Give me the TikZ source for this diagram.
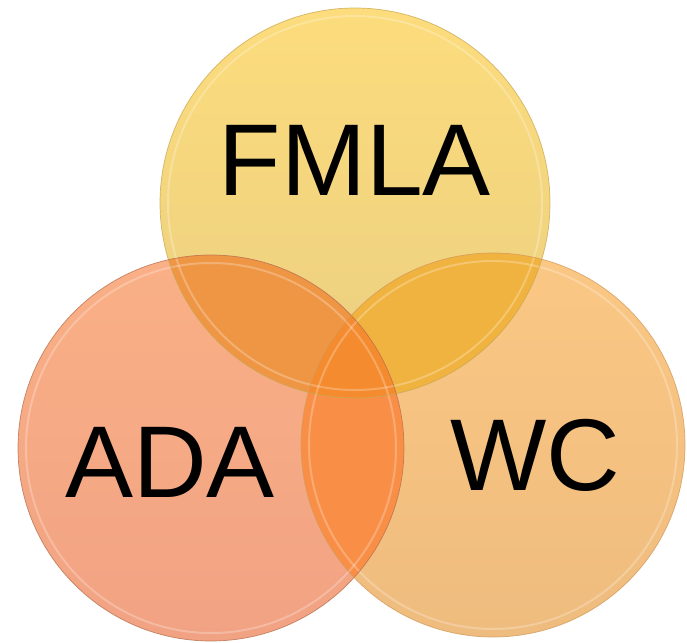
\documentclass[tikz,border=0pt]{standalone}
\usepackage{fontspec}
\setmainfont{Liberation Sans}
\begin{document}
\begin{tikzpicture}[x=1pt,y=-1pt,
  label/.style={font=\fontsize{102}{110}\selectfont, text=black, anchor=base, inner sep=0pt},
  rim/.style={line width=0.7pt},
  bevel/.style={white, line width=2pt, opacity=0.25}]
\useasboundingbox (0,0) rectangle (687,642);
\definecolor{topA}{HTML}{FCDC7C}\definecolor{topB}{HTML}{EBCF82}
\definecolor{lftA}{HTML}{FAB086}\definecolor{lftB}{HTML}{F1A283}
\definecolor{rgtA}{HTML}{FBC784}\definecolor{rgtB}{HTML}{EEBC7E}
\definecolor{ovTL}{HTML}{EF9645}\definecolor{ovTR}{HTML}{F0B33F}
\definecolor{ovLR}{HTML}{F98F47}\definecolor{ovAll}{HTML}{F48B2F}
\definecolor{edTop}{HTML}{C9A955}\definecolor{edLft}{HTML}{B8704E}
\definecolor{edRgt}{HTML}{D39A5A}

% circle centres
\coordinate (ct) at (355,203);
\coordinate (cl) at (211,448);
\coordinate (cr) at (493,445);
\def\rt{195}\def\rl{193}\def\rr{192}

% base discs
\shade[top color=topA, bottom color=topB] (ct) circle (\rt);
\shade[top color=lftA, bottom color=lftB] (cl) circle (\rl);
\shade[top color=rgtA, bottom color=rgtB] (cr) circle (\rr);

% pairwise overlaps
\begin{scope}\clip (ct) circle (\rt); \fill[ovTL] (cl) circle (\rl);\end{scope}
\begin{scope}\clip (ct) circle (\rt); \fill[ovTR] (cr) circle (\rr);\end{scope}
\begin{scope}\clip (cl) circle (\rl); \fill[ovLR] (cr) circle (\rr);\end{scope}
% triple overlap
\begin{scope}\clip (ct) circle (\rt); \clip (cl) circle (\rl); \fill[ovAll] (cr) circle (\rr);\end{scope}

% inner bevel highlights
\draw[bevel] (ct) circle (\rt-8);
\draw[bevel] (cl) circle (\rl-8);
\draw[bevel] (cr) circle (\rr-8);

% outlines
\draw[rim, edTop, opacity=0.8] (ct) circle (\rt);
\draw[rim, edLft, opacity=0.8] (cl) circle (\rl);
\draw[rim, edRgt, opacity=0.8] (cr) circle (\rr);

% labels
\node[label] (fmla) at (355,195) {FMLA};
\node[label] (ada) at (170,497) {ADA};
\node[label] (wc) at (535,490) {WC};
\end{tikzpicture}
\end{document}
